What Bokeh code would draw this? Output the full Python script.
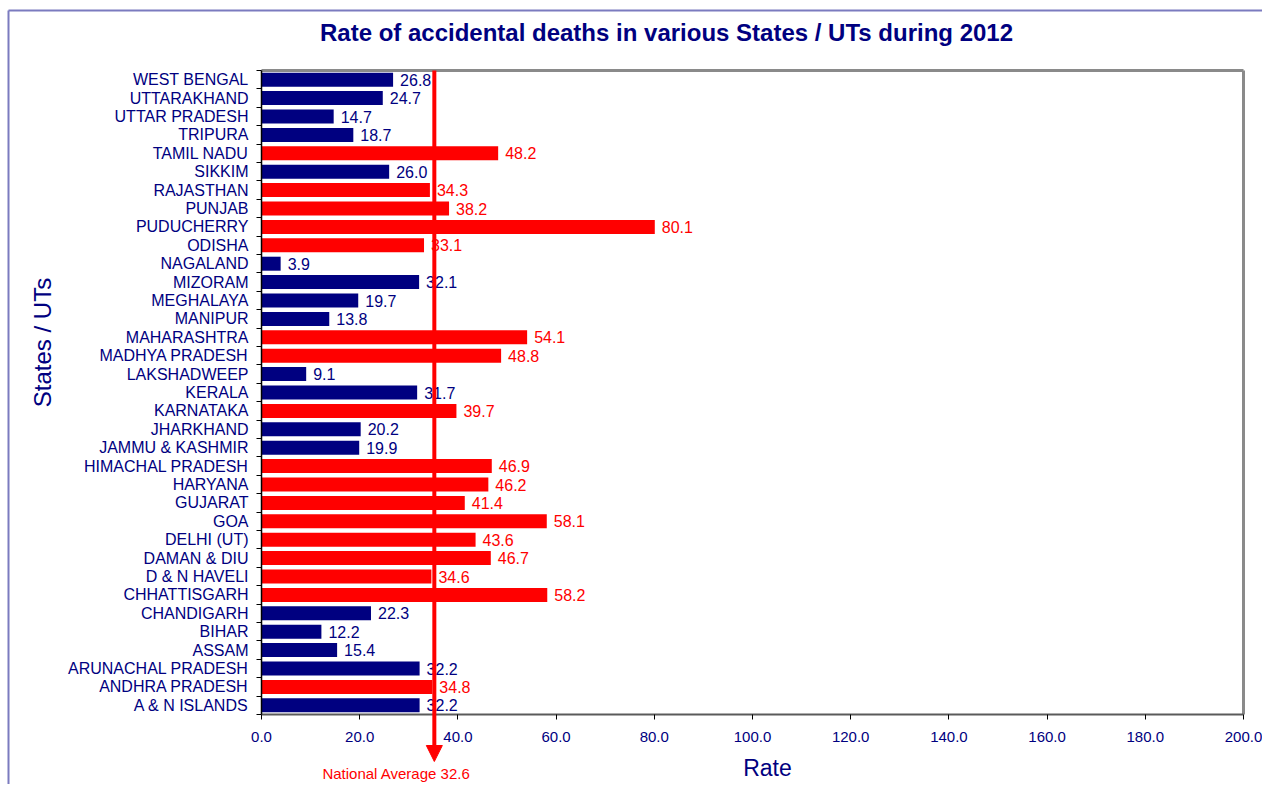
import numpy as np
from bokeh.plotting import figure
from bokeh.models import (ColumnDataSource, FixedTicker, NumeralTickFormatter,
                          Arrow, NormalHead, Label, Range1d)
from bokeh.core.properties import value
from bokeh.embed import file_html
from bokeh.resources import INLINE

# ---- data (top to bottom as in the chart) ----
states = ["WEST BENGAL", "UTTARAKHAND", "UTTAR PRADESH", "TRIPURA", "TAMIL NADU",
          "SIKKIM", "RAJASTHAN", "PUNJAB", "PUDUCHERRY", "ODISHA", "NAGALAND",
          "MIZORAM", "MEGHALAYA", "MANIPUR", "MAHARASHTRA", "MADHYA PRADESH",
          "LAKSHADWEEP", "KERALA", "KARNATAKA", "JHARKHAND", "JAMMU & KASHMIR",
          "HIMACHAL PRADESH", "HARYANA", "GUJARAT", "GOA", "DELHI (UT)",
          "DAMAN & DIU", "D & N HAVELI", "CHHATTISGARH", "CHANDIGARH", "BIHAR",
          "ASSAM", "ARUNACHAL PRADESH", "ANDHRA PRADESH", "A & N ISLANDS"]
rates = [26.8, 24.7, 14.7, 18.7, 48.2, 26.0, 34.3, 38.2, 80.1, 33.1, 3.9,
         32.1, 19.7, 13.8, 54.1, 48.8, 9.1, 31.7, 39.7, 20.2, 19.9,
         46.9, 46.2, 41.4, 58.1, 43.6, 46.7, 34.6, 58.2, 22.3, 12.2,
         15.4, 32.2, 34.8, 32.2]
national_avg = 32.6
marker_x = 35.2          # where the average marker is drawn in the picture
x_ticks = [0, 20, 40, 60, 80, 100, 120, 140, 160, 180, 200]
x_max = 200

NAVY = "#000080"
RED = "#FF0000"
FONT = "Liberation Sans"

n = len(states)
ypos = list(range(n - 1, -1, -1))
colors = [RED if r > national_avg else NAVY for r in rates]
labels = ["%.1f" % r for r in rates]
y_lo, y_hi = -0.5, n - 0.5

# ---- pixel layout: the frame fills the canvas, axes sit at fixed locations ----
W, H = 1262, 784
L_PX, R_PX, T_PX, B_PX = 261, 1243, 70, 714
ppx = (R_PX - L_PX) / x_max
ppy = (B_PX - T_PX) / (y_hi - y_lo)


def xd(px):
    return (px - L_PX) / ppx


def yd(py):
    return y_hi - (py - T_PX) / ppy


src = ColumnDataSource(dict(y=ypos, rate=rates, color=colors, label=labels))

p = figure(width=W, height=H, output_backend="svg", toolbar_location=None,
           title=None,
           x_range=Range1d(xd(0), xd(W)), y_range=Range1d(yd(H), yd(0)),
           min_border=0)

p.hbar(y="y", right="rate", left=0, height=0.76, color="color", line_color=None,
       source=src)
p.text(x="rate", y="y", text="label", text_color="color", x_offset=7,
       text_font=value(FONT), text_font_size="16px", text_baseline="middle",
       text_align="left", source=src)

p.grid.visible = False
p.outline_line_color = None
p.background_fill_color = "white"
p.border_fill_color = "white"

# plot-area box (top and right edges)
p.segment(x0=[0, x_max], y0=[y_hi, y_lo], x1=[x_max, x_max], y1=[y_hi, y_hi],
          line_color="#8a8a8a", line_width=3)
# chart-area border
p.segment(x0=[xd(8), xd(8)], y0=[yd(10), yd(10)], x1=[xd(8), xd(W + 5)],
          y1=[yd(H + 5), yd(10)], line_color="#7b7bbf", line_width=2)

# x axis
xa = p.xaxis[0]
xa.fixed_location = y_lo
xa.bounds = (0, x_max)
xa.ticker = FixedTicker(ticks=x_ticks)
xa.formatter = NumeralTickFormatter(format="0.0")
xa.axis_line_color = "#5a5a5a"
xa.axis_line_width = 2
xa.major_tick_in = 0
xa.major_tick_out = 5
xa.major_tick_line_color = "black"
xa.minor_tick_line_color = None
xa.major_label_text_font = FONT
xa.major_label_text_font_size = "15px"
xa.major_label_text_color = NAVY
xa.major_label_standoff = 12

# y axis: labels at bar centres, ticks at category boundaries
ya = p.yaxis[0]
ya.fixed_location = 0
ya.bounds = (y_lo, y_hi)
ya.ticker = FixedTicker(ticks=ypos, minor_ticks=[i - 0.5 for i in range(n + 1)])
ya.major_label_overrides = {y: s for y, s in zip(ypos, states)}
ya.major_tick_in = 0
ya.major_tick_out = 0
ya.minor_tick_in = 0
ya.minor_tick_out = 5
ya.minor_tick_line_color = "black"
ya.axis_line_color = "black"
ya.axis_line_width = 1.5
ya.major_label_text_font = FONT
ya.major_label_text_font_size = "16px"
ya.major_label_text_color = NAVY
ya.major_label_standoff = 8

# title and axis titles
p.add_layout(Label(x=xd(666), y=yd(32),
                   text="Rate of accidental deaths in various States / UTs during 2012",
                   text_font=FONT, text_font_size="24px", text_font_style="bold",
                   text_color=NAVY, text_align="center", text_baseline="middle"))
p.add_layout(Label(x=xd(42), y=yd(342), text="States / UTs", angle=np.pi / 2,
                   text_font=FONT, text_font_size="24px", text_color=NAVY,
                   text_align="center", text_baseline="middle"))
p.add_layout(Label(x=xd(767), y=yd(767), text="Rate",
                   text_font=FONT, text_font_size="23px", text_color=NAVY,
                   text_align="center", text_baseline="middle"))

# national average marker
p.add_layout(Arrow(x_start=marker_x, y_start=y_hi, x_end=marker_x, y_end=yd(761),
                   line_color=RED, line_width=4,
                   end=NormalHead(size=16, fill_color=RED, line_color=RED)))
p.add_layout(Label(x=xd(396), y=yd(773), text="National Average %.1f" % national_avg,
                   text_font=FONT, text_font_size="15px", text_color=RED,
                   text_align="center", text_baseline="middle"))

open("out.html", "w").write(file_html(p, INLINE))
